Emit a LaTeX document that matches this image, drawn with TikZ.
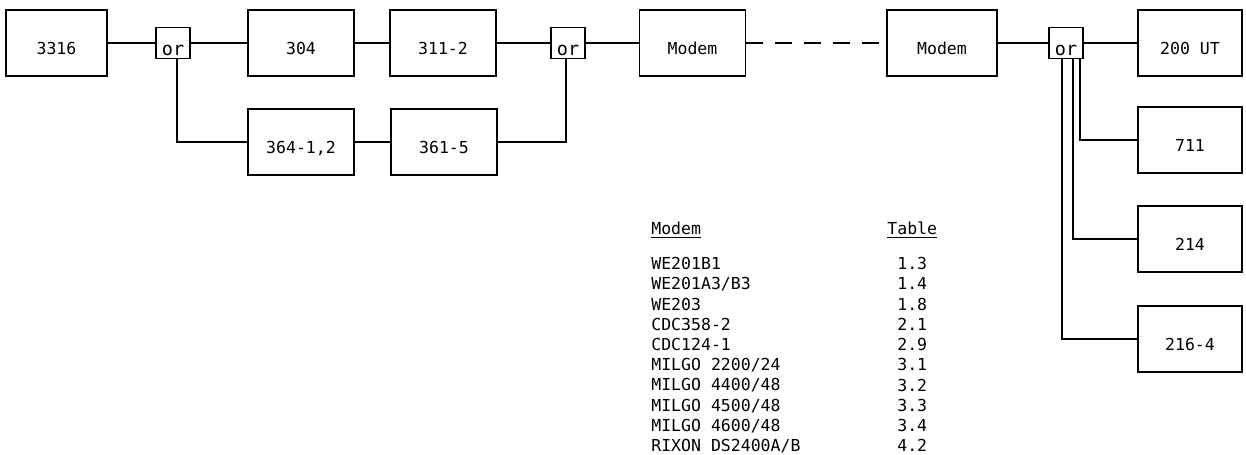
\documentclass[tikz,border=0pt]{standalone}
\usepackage{fontspec}
\setmonofont{DejaVu Sans Mono}
\usetikzlibrary{calc}

\begin{document}
\begin{tikzpicture}[
      x=0.02cm, y=-0.02cm,
      font=\ttfamily\fontsize{9.4}{11.5}\selectfont,
      box/.style={
        draw=black,
        line width=0.8pt,
        minimum width=2.12cm,
        minimum height=1.32cm,
        inner sep=0pt,
        text height=13.5pt,
        text depth=0pt
      },
      gate/.style={
        draw=black,
        line width=0.8pt,
        minimum width=0.68cm,
        minimum height=0.62cm,
        inner xsep=1.5pt,
        inner ysep=1.5pt,
        text height=14.5pt,
        text depth=0pt,
        font=\ttfamily\fontsize{10.5}{12}\selectfont
      },
      wire/.style={
        line width=0.7pt,
        draw=black
      },
      link/.style={
        wire,
        dash pattern=on 0.34cm off 0.24cm
      },
      column/.style={
        anchor=north west,
        inner sep=0pt,
        align=left
      }
    ]

    \useasboundingbox (0,0) rectangle (1246,455);

    % Top row
    \node[box, minimum width=2.02cm] (b3316) at (56.5,43) {3316};
    \node[gate] (or1) at (173,43) {or};
    \node[box] (b304) at (301,43) {304};
    \node[box] (b311) at (443,43) {311-2};
    \node[gate] (or2) at (568,43) {or};
    \node[box] (modemA) at (692.5,43) {Modem};
    \node[box, minimum width=2.2cm] (modemB) at (942,43) {Modem};
    \node[gate] (or3) at (1066,43) {or};
    \node[box, minimum width=2.08cm] (b200) at (1190,43) {200 UT};

    % Second path
    \node[box] (b364) at (301,142) {364-1,2};
    \node[box] (b361) at (444,142) {361-5};

    % Terminals
    \node[box, minimum width=2.08cm] (b711) at (1190,140) {711};
    \node[box, minimum width=2.08cm] (b214) at (1190,239) {214};
    \node[box, minimum width=2.08cm] (b2164) at (1190,339) {216-4};

    % Connections
    \draw[wire] (b3316.east) -- (or1.west);
    \draw[wire] (or1.east) -- (b304.west);
    \draw[wire] (b304.east) -- (b311.west);
    \draw[wire] (b311.east) -- (or2.west);
    \draw[wire] (or2.east) -- (modemA.west);
    \draw[link] (modemA.east) -- (modemB.west);
    \draw[wire] (modemB.east) -- (or3.west);
    \draw[wire] (or3.east) -- (b200.west);

    \draw[wire] ($(or1.south)+(4,0)$) |- (b364.west);
    \draw[wire] (b364.east) -- (b361.west);
    \draw[wire] (b361.east) -| ($(or2.south)+(-2,0)$);

    \draw[wire] ($(or3.south)+(14,0)$) |- (b711.west);
    \draw[wire] ($(or3.south)+(7,0)$) |- (b214.west);
    \draw[wire] ($(or3.south)+(-4,0)$) |- (b2164.west);

    % Modem table
    \node[column] (modemlist) at (651,222)
      {\underline{Modem}\\[8.3pt]
       WE201B1\\ WE201A3/B3\\ WE203\\ CDC358-2\\ CDC124-1\\
       MILGO 2200/24\\ MILGO 4400/48\\ MILGO 4500/48\\ MILGO 4600/48\\
       RIXON DS2400A/B};
    \node[column] (tablelist) at (887,222)
      {\underline{Table}\\[8.3pt]
       \ 1.3\\ \ 1.4\\ \ 1.8\\ \ 2.1\\ \ 2.9\\
       \ 3.1\\ \ 3.2\\ \ 3.3\\ \ 3.4\\ \ 4.2};

    \end{tikzpicture}
\end{document}
